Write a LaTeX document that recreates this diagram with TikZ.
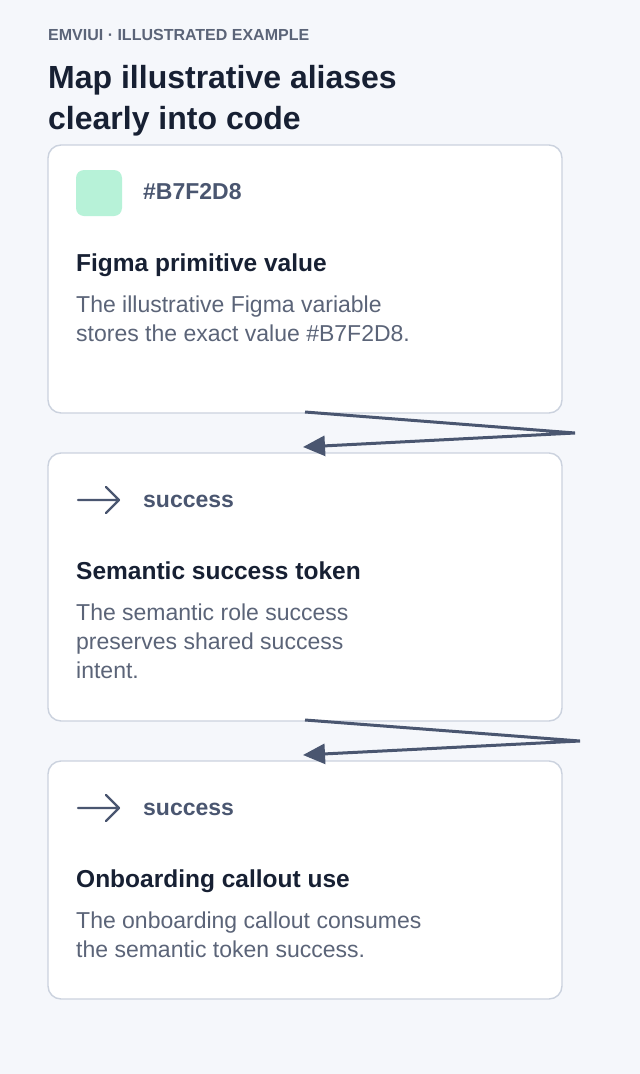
\documentclass[tikz,border=0pt]{standalone}
\usepackage{fontspec}
\setmainfont{Liberation Sans}
\usepackage{xcolor}
\usetikzlibrary{arrows.meta}
\definecolor{pagebg}{HTML}{F5F7FB}
\definecolor{cardline}{HTML}{CBD2DE}
\definecolor{ink}{HTML}{172033}
\definecolor{muted}{HTML}{5B6478}
\definecolor{slate}{HTML}{4A5670}
\definecolor{swatch}{HTML}{B7F2D8}
\begin{document}
\begin{tikzpicture}[x=1pt,y=-1pt,
    card/.style={draw=cardline,line width=1.4pt,fill=white,rounded corners=13pt},
    eyebrow/.style={anchor=base west,inner sep=0pt,text=muted,font=\fontsize{16}{18}\selectfont\bfseries},
    headline/.style={anchor=base west,inner sep=0pt,text=ink,font=\fontsize{32}{38}\selectfont\bfseries},
    chip/.style={anchor=base west,inner sep=0pt,text=slate,font=\fontsize{23}{27}\selectfont\bfseries},
    cardtitle/.style={anchor=base west,inner sep=0pt,text=ink,font=\fontsize{24.5}{29}\selectfont\bfseries},
    body/.style={anchor=base west,inner sep=0pt,text=muted,font=\fontsize{23}{27}\selectfont},
    icon/.style={draw=slate,line width=2.4pt,line cap=round,line join=round},
    link/.style={draw=slate,line width=3pt,-{Triangle[length=22pt,width=20pt]}}]
  \useasboundingbox[fill=pagebg] (0,0) rectangle (640,1074);
  % header
  \node[eyebrow] (eyebrow) at (48,40) {EMVIUI · ILLUSTRATED EXAMPLE};
  \node[headline] (title1) at (48,88) {Map illustrative aliases};
  \node[headline] (title2) at (48,129) {clearly into code};
  % cards
  \draw[card] (48,145) rectangle (562,413);
  \draw[card] (48,453) rectangle (562,721);
  \draw[card] (48,761) rectangle (562,999);
  % primitive
  \fill[swatch,rounded corners=8pt] (76,170) rectangle (122,216);
  \node[chip] (hex) at (143,199) {\#B7F2D8};
  \node[cardtitle] (prim) at (76,271) {Figma primitive value};
  \node[body] (prim1) at (76,312) {The illustrative Figma variable};
  \node[body] (prim2) at (76,341) {stores the exact value \#B7F2D8.};
  % semantic
  \draw[icon] (78,500) -- (119,500) (106,487) -- (119,500) -- (106,513);
  \node[chip] (sem) at (143,507) {success};
  \node[cardtitle] (semtitle) at (76,579) {Semantic success token};
  \node[body] (sem1) at (76,620) {The semantic role success};
  \node[body] (sem2) at (76,649) {preserves shared success};
  \node[body] (sem3) at (76,678) {intent.};
  % usage
  \draw[icon] (78,808) -- (119,808) (106,795) -- (119,808) -- (106,821);
  \node[chip] (use) at (143,815) {success};
  \node[cardtitle] (usetitle) at (76,887) {Onboarding callout use};
  \node[body] (use1) at (76,928) {The onboarding callout consumes};
  \node[body] (use2) at (76,957) {the semantic token success.};
  % connectors
  \coordinate (a1) at (305,412);
  \coordinate (a2) at (575,433);
  \coordinate (a3) at (303,447);
  \coordinate (b1) at (305,720);
  \coordinate (b2) at (580,741);
  \coordinate (b3) at (303,755);
  \draw[link] (a1) -- (a2) -- (a3);
  \draw[link] (b1) -- (b2) -- (b3);
\end{tikzpicture}
\end{document}
